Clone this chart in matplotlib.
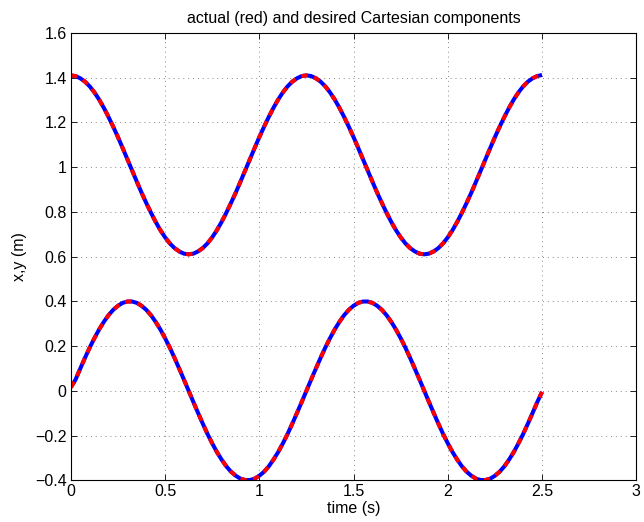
import numpy as np
import matplotlib
matplotlib.use('Agg')
import matplotlib.pyplot as plt

plt.rcParams['font.family'] = ['Liberation Sans', 'DejaVu Sans']

time = [i * 0.025 for i in range(101)]

x_comp = [1.410, 1.407, 1.397, 1.382, 1.361, 1.334, 1.302, 1.265, 1.224, 1.180,
          1.134, 1.085, 1.035, 0.985, 0.935, 0.886, 0.840, 0.796, 0.755, 0.718,
          0.686, 0.659, 0.638, 0.623, 0.613, 0.610, 0.613, 0.623, 0.638, 0.659,
          0.686, 0.718, 0.755, 0.796, 0.840, 0.886, 0.935, 0.985, 1.035, 1.085,
          1.134, 1.180, 1.224, 1.265, 1.302, 1.334, 1.361, 1.382, 1.397, 1.407,
          1.410, 1.407, 1.397, 1.382, 1.361, 1.334, 1.302, 1.265, 1.224, 1.180,
          1.134, 1.085, 1.035, 0.985, 0.935, 0.886, 0.840, 0.796, 0.755, 0.718,
          0.686, 0.659, 0.638, 0.623, 0.613, 0.610, 0.613, 0.623, 0.638, 0.659,
          0.686, 0.718, 0.755, 0.796, 0.840, 0.886, 0.935, 0.985, 1.035, 1.085,
          1.134, 1.180, 1.224, 1.265, 1.302, 1.334, 1.361, 1.382, 1.397, 1.407,
          1.412]

y_comp = [0.015, 0.050, 0.099, 0.147, 0.193, 0.235, 0.274, 0.308, 0.338, 0.362,
          0.380, 0.393, 0.399, 0.399, 0.393, 0.380, 0.362, 0.338, 0.308, 0.274,
          0.235, 0.193, 0.147, 0.099, 0.050, 0.000, -0.050, -0.099, -0.147, -0.193,
          -0.235, -0.274, -0.308, -0.338, -0.362, -0.380, -0.393, -0.399, -0.399, -0.393,
          -0.380, -0.362, -0.338, -0.308, -0.274, -0.235, -0.193, -0.147, -0.099, -0.050,
          0.000, 0.050, 0.099, 0.147, 0.193, 0.235, 0.274, 0.308, 0.338, 0.362,
          0.380, 0.393, 0.399, 0.399, 0.393, 0.380, 0.362, 0.338, 0.308, 0.274,
          0.235, 0.193, 0.147, 0.099, 0.050, 0.000, -0.050, -0.099, -0.147, -0.193,
          -0.235, -0.274, -0.308, -0.338, -0.362, -0.380, -0.393, -0.399, -0.399, -0.393,
          -0.380, -0.362, -0.338, -0.308, -0.274, -0.235, -0.193, -0.147, -0.099, -0.050,
          -0.005]

xtick_labels = ['0', '0.5', '1', '1.5', '2', '2.5', '3']
ytick_labels = ['\u22120.4', '\u22120.2', '0', '0.2', '0.4', '0.6', '0.8', '1', '1.2', '1.4', '1.6']

fig = plt.figure(figsize=(6.44, 5.22), dpi=100)
ax = fig.add_axes([0.110, 0.080, 0.878, 0.857])

for comp in [x_comp, y_comp]:
    ax.plot(time, comp, color='blue', lw=2.9, solid_capstyle='butt')
    ax.plot(time, comp, color='red', lw=2.9, linestyle=(0, (1.6, 1.6)))

ax.set_xlim(0, 3)
ax.set_ylim(-0.4, 1.6)
ax.set_xticks(np.arange(0, 3.01, 0.5))
ax.set_xticklabels(xtick_labels)
ax.set_yticks(np.linspace(-0.4, 1.6, 11))
ax.set_yticklabels(ytick_labels)
ax.grid(True, linestyle=(0, (1, 4)), color='#888888', lw=0.7)
ax.tick_params(direction='in', top=True, right=True, length=4, width=0.6,
               labelsize=11.5, pad=3)
for s in ax.spines.values():
    s.set_linewidth(0.8)

ax.set_xlabel('time (s)', fontsize=11.5, labelpad=1)
ax.set_ylabel('x,y (m)', fontsize=11.5, labelpad=6)
ax.set_title('actual (red) and desired Cartesian components', fontsize=11.5, pad=7)

fig.savefig('out.png', dpi=100)
